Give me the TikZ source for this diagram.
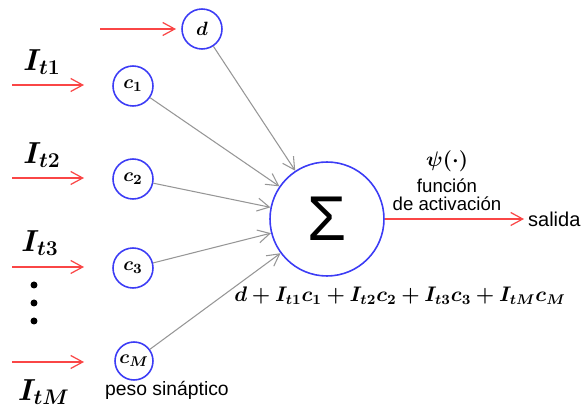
\documentclass[tikz,border=0pt]{standalone}
\usepackage[no-math]{fontspec}
\setmainfont{Liberation Sans}
\usepackage{bm}
\usepackage{xcolor}
\usetikzlibrary{arrows.meta, positioning, calc}

\definecolor{neuroblue}{RGB}{60,60,245}
\definecolor{inred}{RGB}{250,70,70}
\definecolor{wgray}{RGB}{150,150,150}

\begin{document}
\begin{tikzpicture}[x=0.02cm, y=-0.02cm, font=\fontsize{10.6pt}{10pt}\selectfont,
    >={Straight Barb[length=2.4mm, width=2.6mm]},
    peso/.style={draw=neuroblue, line width=0.9pt, circle, minimum size=0.8cm, inner sep=0pt, font=\fontsize{11pt}{11pt}\selectfont},
    suma/.style={draw=neuroblue, line width=0.9pt, circle, minimum size=2.28cm, inner sep=0pt, font=\fontsize{36pt}{36pt}\selectfont},
    entrada/.style={->, draw=inred, line width=0.7pt},
    enlace/.style={->, draw=wgray, line width=0.6pt},
    etiq/.style={font=\fontsize{17pt}{17pt}\selectfont}]
    \useasboundingbox (0,0) rectangle (582,408);

    % pesos sinapticos y neurona
    \node[peso] (pd) at (202,29) {$\bm{d}$};
    \node[peso] (c1) at (133,86) {$\bm{c_1}$};
    \node[peso] (c2) at (133,179) {$\bm{c_2}$};
    \node[peso] (c3) at (133,268) {$\bm{c_3}$};
    \node[peso, minimum size=0.76cm] (cM) at (134,361) {$\bm{c_M}$};
    \node[suma] (sum) at (327,219) {Σ};

    % extremos libres de las flechas
    \coordinate (d0) at (100,29);  \coordinate (d1) at (176,29);
    \coordinate (a0) at (12,85);   \coordinate (a1) at (84,85);
    \coordinate (b0) at (12,178);  \coordinate (b1) at (84,178);
    \coordinate (e0) at (12,267);  \coordinate (e1) at (84,267);
    \coordinate (m0) at (12,362);  \coordinate (m1) at (84,362);
    \coordinate (out) at (524,219);

    % entradas
    \node[etiq] (It1) at (42,62) {$\bm{I_{t1}}$};
    \node[etiq] (It2) at (42,155) {$\bm{I_{t2}}$};
    \node[etiq] (It3) at (40,243) {$\bm{I_{t3}}$};
    \node[etiq] (ItM) at (44,392) {$\bm{I_{tM}}$};
    \fill (34,285) circle (0.07cm) (34,303) circle (0.07cm) (34,321) circle (0.07cm);

    \draw[entrada] (d0) -- (d1);
    \draw[entrada] (a0) -- (a1);
    \draw[entrada] (b0) -- (b1);
    \draw[entrada] (e0) -- (e1);
    \draw[entrada] (m0) -- (m1);

    \draw[enlace] (pd) -- (sum);
    \draw[enlace] (c1) -- (sum);
    \draw[enlace] (c2) -- (sum);
    \draw[enlace] (c3) -- (sum);
    \draw[enlace] (cM) -- (sum);

    \draw[entrada] (sum.east) -- (out) node[right=0pt, inner sep=2pt, font=\fontsize{11.4pt}{11pt}\selectfont] (sal) {salida};

    % textos
    \node[font=\fontsize{12pt}{12pt}\selectfont] (psi) at (447,161) {$\bm{\psi(\cdot)}$};
    \node[align=center] (fact) at (447,195) {función\\de activación};
    \node[font=\fontsize{11pt}{11pt}\selectfont] (lpeso) at (167,390) {peso sináptico};
    \node[font=\fontsize{12pt}{12pt}\selectfont] (form) at (400,296) {$\bm{d+I_{t1}c_1+I_{t2}c_2+I_{t3}c_3+I_{tM}c_M}$};
\end{tikzpicture}
\end{document}
